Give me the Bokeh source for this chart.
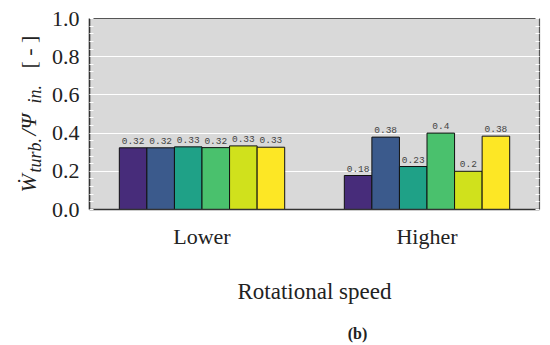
import math
from bokeh.plotting import figure
from bokeh.layouts import row, column
from bokeh.models import (ColumnDataSource, FactorRange, LinearAxis,
                          Range1d, SingleIntervalTicker)
from bokeh.core.properties import value
from bokeh.transform import dodge
from bokeh.embed import file_html
from bokeh.resources import INLINE

# ---- data ----
groups = ["Lower", "Higher"]
series_colors = ["#472c7a", "#3b5a8c", "#1fa187", "#4ac16d", "#d0e11c", "#fde725"]
lower_values = [0.323, 0.323, 0.328, 0.324, 0.333, 0.326]
higher_values = [0.178, 0.379, 0.225, 0.400, 0.200, 0.384]
lower_labels = ["0.32", "0.32", "0.33", "0.32", "0.33", "0.33"]
higher_labels = ["0.18", "0.38", "0.23", "0.4", "0.2", "0.38"]
y_ticks = [0.0, 0.2, 0.4, 0.6, 0.8, 1.0]
ylabel_parts = ["Ẇ", "turb.", "/Ψ", "in.", "[ - ]"]
ylabel_starts = [0.089, 0.194, 0.387, 0.555, 0.738]   # along the y axis (data units)
caption = "(b)"

SERIF = "Liberation Serif"
BAR_W = 0.1225
TOTAL_W = 545
H = 321
CAP_H = 24
TOP, BOTTOM = 18, H - 209
LEFT_W = 44

# ---- left strip carrying the composed y-axis label ----
lf = figure(width=LEFT_W, height=H, x_range=Range1d(0, LEFT_W), y_range=Range1d(0, 1.0),
            output_backend="svg", toolbar_location=None,
            min_border_left=0, min_border_right=0, min_border_top=TOP, min_border_bottom=BOTTOM)
lf.axis.visible = False
lf.grid.visible = False
lf.outline_line_color = None
lf.background_fill_color = "white"
lf.border_fill_color = "white"
main_x, sub_x = 28, 34
sizes = ["22px", "18px", "22px", "18px", "22px"]
styles = ["italic", "italic", "italic", "italic", "normal"]
xs = [main_x, sub_x, main_x, sub_x, main_x]
for t, y0, s, st, x0 in zip(ylabel_parts, ylabel_starts, sizes, styles, xs):
    lf.text(x=[x0], y=[y0], text=[t], angle=math.pi / 2, text_font=value(SERIF),
            text_font_size=s, text_font_style=st, text_color="#222222",
            text_align="left", text_baseline="alphabetic")

# ---- main chart ----
p = figure(width=TOTAL_W - LEFT_W, height=H, x_range=FactorRange(*groups),
           y_range=Range1d(0, 1.0), output_backend="svg", toolbar_location=None,
           min_border_left=89 - LEFT_W, min_border_right=4, min_border_top=TOP,
           min_border_bottom=BOTTOM)

p.background_fill_color = "#d9d9d9"
p.border_fill_color = "white"
p.outline_line_color = "#555555"
p.outline_line_width = 1.2

for i in range(6):
    src = ColumnDataSource(dict(g=groups, v=[lower_values[i], higher_values[i]],
                                lab=[lower_labels[i], higher_labels[i]]))
    off = (i - 2.5) * BAR_W
    p.vbar(x=dodge("g", off, range=p.x_range), top="v", width=BAR_W, bottom=0,
           source=src, fill_color=series_colors[i], line_color="#111111", line_width=1)
    p.text(x=dodge("g", off, range=p.x_range), y="v", text="lab", source=src,
           y_offset=-4, text_align="center", text_baseline="bottom",
           text_font=value("Liberation Mono"), text_font_size="9.5px", text_color="#444444")

p.xgrid.grid_line_color = None
p.ygrid.grid_line_color = "white"
p.ygrid.grid_line_width = 1.2
p.ygrid.level = "underlay"

ya = p.yaxis[0]
ya.ticker = SingleIntervalTicker(interval=0.2, num_minor_ticks=5)
ya.major_label_overrides = {t: f"{t:.1f}" for t in y_ticks}
ya.major_label_text_font = SERIF
ya.major_label_text_font_size = "22px"
ya.major_label_text_color = "#222222"
ya.major_tick_line_color = None
ya.minor_tick_in = 4
ya.minor_tick_out = 0
ya.minor_tick_line_color = "white"
ya.axis_line_color = "#333333"
ya.axis_line_width = 1.5
ya.major_label_standoff = 4

ra = LinearAxis(ticker=SingleIntervalTicker(interval=0.2, num_minor_ticks=5))
ra.major_label_text_font_size = "0px"
ra.major_tick_line_color = None
ra.minor_tick_in = 4
ra.minor_tick_out = 0
ra.minor_tick_line_color = "white"
ra.axis_line_color = None
ra.major_label_standoff = 0
p.add_layout(ra, "right")

xa = p.xaxis[0]
xa.major_tick_line_color = None
xa.minor_tick_line_color = None
xa.axis_line_color = "#333333"
xa.axis_line_width = 1.5
xa.major_label_text_font = SERIF
xa.major_label_text_font_size = "22px"
xa.major_label_text_color = "#222222"
xa.major_label_standoff = 8
xa.axis_label = "Rotational speed"
xa.axis_label_text_font = SERIF
xa.axis_label_text_font_style = "normal"
xa.axis_label_text_font_size = "23px"
xa.axis_label_text_color = "#222222"
xa.axis_label_standoff = 27

# ---- caption strip ----
cf = figure(width=TOTAL_W, height=CAP_H, x_range=Range1d(0, TOTAL_W), y_range=Range1d(0, CAP_H),
            output_backend="svg", toolbar_location=None,
            min_border_left=0, min_border_right=0, min_border_top=0, min_border_bottom=0)
cf.axis.visible = False
cf.grid.visible = False
cf.outline_line_color = None
cf.background_fill_color = "white"
cf.border_fill_color = "white"
cf.text(x=[357], y=[CAP_H / 2], text=[caption], text_font=value(SERIF), text_font_size="16px",
        text_font_style="bold", text_color="#222222", text_align="center",
        text_baseline="middle")

layout = column(row(lf, p, spacing=0), cf, spacing=0)
open("out.html", "w").write(file_html(layout, INLINE))
